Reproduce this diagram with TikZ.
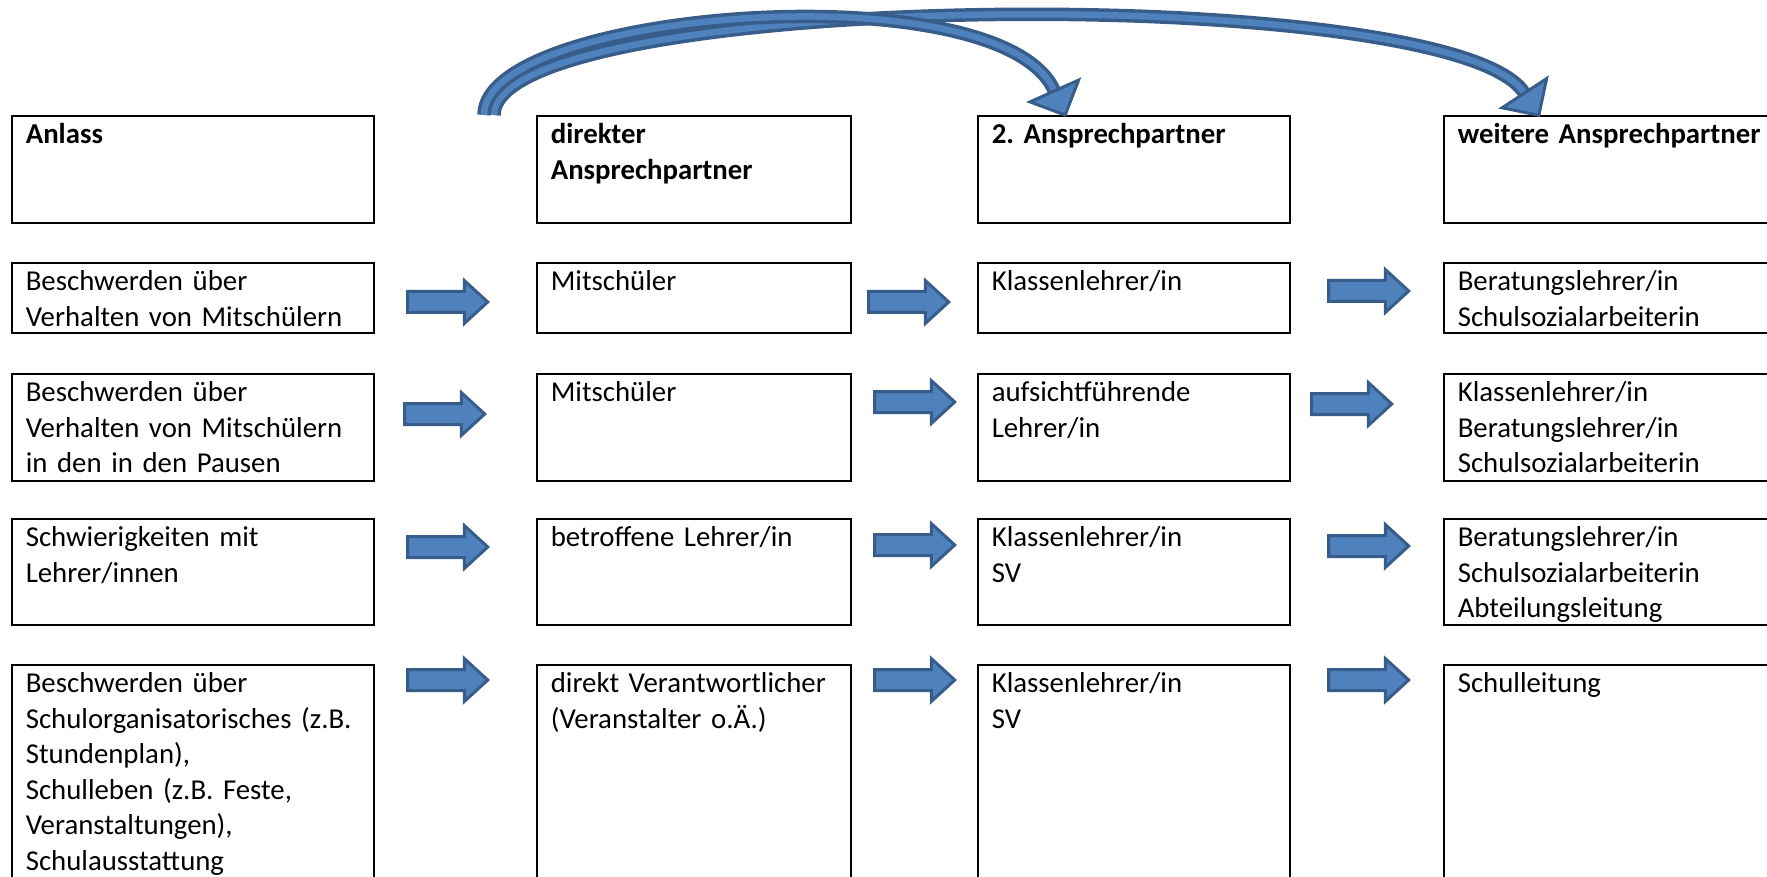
\documentclass[tikz,border=0pt]{standalone}
\usepackage{fontspec}
\setmainfont{Carlito}
\usetikzlibrary{arrows.meta,shapes.arrows}
\definecolor{arrowfill}{HTML}{4F81BD}
\definecolor{arrowline}{HTML}{385D8A}
\frenchspacing

\begin{document}
\begin{tikzpicture}[x=1pt,y=-1pt,
    cell/.style={draw, line width=1.6pt, anchor=north west, inner xsep=14pt, inner ysep=4pt,
      text height=24pt, align=left, font={\fontsize{28.8pt}{35.5pt}\selectfont}},
    cola/.style={text width=334pt}, colb/.style={text width=286pt},
    colc/.style={text width=284pt}, cold/.style={text width=312pt},
    rowh/.style={text depth=75pt}, rowa/.style={text depth=38pt},
    rowb/.style={text depth=75pt}, rowc/.style={text depth=74pt},
    rowd/.style={text depth=228pt},
    blockarrow/.style={single arrow, draw=arrowline, fill=arrowfill, line width=3pt,
      minimum height=80pt, inner xsep=0pt, inner ysep=9pt,
      single arrow head extend=11pt, single arrow tip angle=85},
    bendarrow/.style={draw=arrowline, line width=3.5pt, double=arrowfill, double distance=6.5pt,
      -{Triangle[length=30pt, width=60pt, fill=arrowfill, line width=3pt]}}]
       \useasboundingbox (0,0) rectangle (1767,877);
       % header
       \node[cell,cola,rowh] (h1) at (11,115) {\textbf{Anlass}};
       \node[cell,colb,rowh] (h2) at (536,115) {\textbf{direkter}\\\textbf{Ansprechpartner}};
       \node[cell,colc,rowh] (h3) at (977,115) {\textbf{2.\ Ansprechpartner}};
       \node[cell,cold,rowh] (h4) at (1443,115) {\textbf{weitere Ansprechpartner}};
       % row a
       \node[cell,cola,rowa] (a1) at (11,262) {Beschwerden über\\Verhalten von Mitschülern};
       \node[cell,colb,rowa] (a2) at (536,262) {Mitschüler};
       \node[cell,colc,rowa] (a3) at (977,262) {Klassenlehrer/in};
       \node[cell,cold,rowa] (a4) at (1443,262) {Beratungslehrer/in\\Schulsozialarbeiterin};
       % row b
       \node[cell,cola,rowb] (b1) at (11,373) {Beschwerden über\\Verhalten von Mitschülern\\in den in den Pausen};
       \node[cell,colb,rowb] (b2) at (536,373) {Mitschüler};
       \node[cell,colc,rowb] (b3) at (977,373) {aufsichtführende\\Lehrer/in};
       \node[cell,cold,rowb] (b4) at (1443,373) {Klassenlehrer/in\\Beratungslehrer/in\\Schulsozialarbeiterin};
       % row c
       \node[cell,cola,rowc] (c1) at (11,518) {Schwierigkeiten mit\\Lehrer/innen};
       \node[cell,colb,rowc] (c2) at (536,518) {betroffene Lehrer/in};
       \node[cell,colc,rowc] (c3) at (977,518) {Klassenlehrer/in\\SV};
       \node[cell,cold,rowc] (c4) at (1443,518) {Beratungslehrer/in\\Schulsozialarbeiterin\\Abteilungsleitung};
       % row d
       \node[cell,cola,rowd] (d1) at (11,664) {Beschwerden über\\Schulorganisatorisches (z.B.\\Stundenplan),\\Schulleben (z.B. Feste,\\Veranstaltungen),\\Schulausstattung};
       \node[cell,colb,rowd] (d2) at (536,664) {direkt Verantwortlicher\\(Veranstalter o.Ä.)};
       \node[cell,colc,rowd] (d3) at (977,664) {Klassenlehrer/in\\SV};
       \node[cell,cold,rowd] (d4) at (1443,664) {Schulleitung};
       % block arrows between the columns
       \foreach \x/\y/\name in {442/302/pa1, 903/302/pa2, 1363/291/pa3,
                                439/414/pb1, 909/402/pb2, 1346/404/pb3,
                                442/547/pc1, 909/545/pc2, 1363/546/pc3,
                                442/680/pd1, 909/680/pd2, 1363/680/pd3}
          {\node[blockarrow] (\name) at (\x,\y) {};}
       % curved arrows over the top
       \coordinate (tailA) at ([xshift=-52pt]h2.north west);
       \coordinate (tailB) at ([xshift=-42pt]h2.north west);
       \draw[bendarrow] (tailB) .. controls (494,-10) and (1450,-20) .. ([xshift=97pt,yshift=-2pt]h4.north west);
       \draw[bendarrow] (tailA) .. controls (484,10) and (1000,-30) .. ([xshift=89pt,yshift=-2pt]h3.north west);
\end{tikzpicture}
\end{document}
